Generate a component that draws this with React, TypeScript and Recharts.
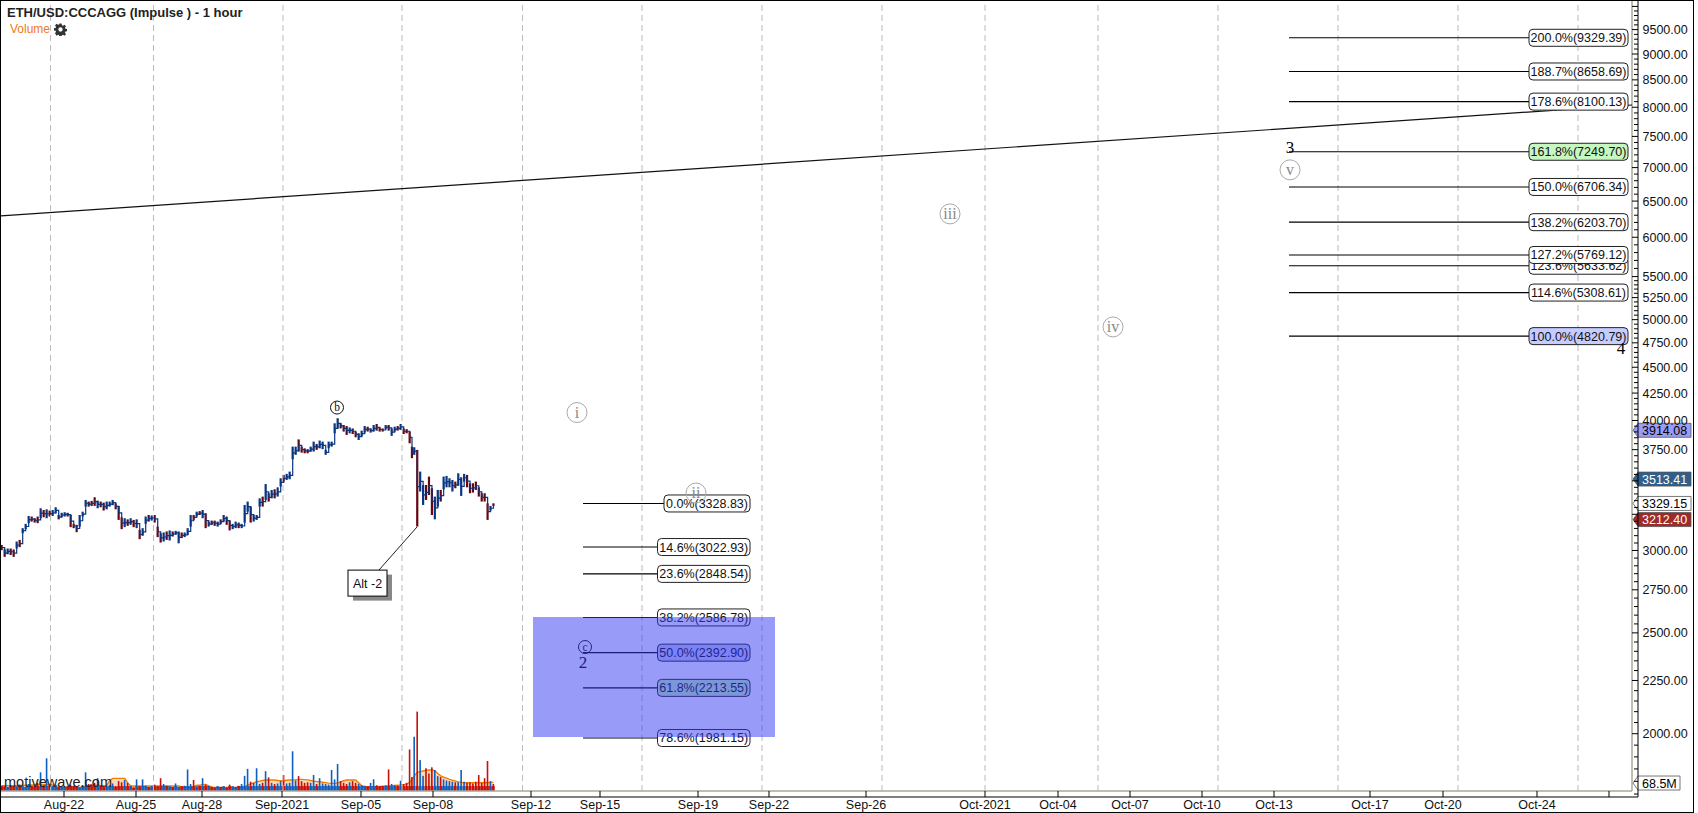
import React from 'react';
import { ComposedChart, Bar, Area, Line, XAxis, YAxis, ReferenceLine, ReferenceArea, ReferenceDot } from 'recharts';

const FONT = '"Liberation Sans", Arial, sans-serif';
const SERIF = '"Liberation Serif", serif';

// hourly series
const priceHigh = [3037,3007,3013,3013,3007,3060,3071,3152,3182,3238,3234,3222,3234,3294,3281,3286,3277,3281,3301,3245,3261,3265,3261,3245,3182,3175,3245,3269,3355,3343,3348,3375,3350,3343,3335,3343,3343,3355,3330,3311,3229,3222,3214,3222,3210,3214,3140,3152,3234,3245,3242,3245,3163,3117,3122,3129,3136,3129,3133,3129,3122,3122,3152,3245,3245,3269,3273,3281,3257,3198,3205,3205,3198,3214,3245,3234,3205,3182,3198,3191,3182,3318,3343,3306,3245,3245,3367,3380,3475,3405,3430,3435,3450,3520,3546,3554,3572,3775,3775,3836,3775,3761,3754,3775,3817,3798,3826,3817,3748,3817,3817,3975,4020,3975,3960,3951,3939,3930,3903,3888,3911,3951,3945,3930,3960,3969,3939,3930,3960,3960,3930,3945,3951,3969,3930,3924,3903,3775,3770,3748,3572,3468,3468,3533,3443,3380,3430,3430,3533,3538,3520,3507,3494,3559,3528,3554,3546,3481,3481,3494,3450,3405,3405,3330,3311,3330];
const priceLow = [3002,2958,2975,2970,2958,3013,3022,3117,3145,3187,3198,3191,3187,3222,3229,3222,3234,3238,3257,3214,3229,3234,3234,3159,3152,3124,3163,3234,3306,3306,3311,3311,3294,3301,3277,3286,3306,3316,3286,3210,3145,3159,3168,3175,3159,3152,3076,3099,3182,3198,3205,3191,3090,3053,3060,3071,3067,3094,3106,3048,3083,3090,3106,3163,3210,3234,3245,3222,3152,3163,3175,3168,3163,3182,3198,3175,3136,3145,3152,3152,3152,3191,3269,3191,3198,3210,3306,3306,3355,3343,3367,3367,3380,3456,3494,3507,3512,3672,3707,3734,3725,3720,3720,3734,3734,3748,3761,3754,3707,3761,3775,3888,3930,3930,3903,3874,3888,3882,3854,3831,3860,3894,3903,3894,3903,3911,3903,3903,3924,3911,3866,3903,3911,3917,3882,3888,3803,3680,3707,3163,3418,3318,3355,3392,3245,3214,3306,3343,3435,3450,3450,3418,3443,3462,3385,3494,3450,3405,3410,3430,3380,3343,3343,3210,3277,3311];
const priceDir = 'DDUDDUD' + 'UUUDDDUDUDU' + 'UDUUDDDDUU' + 'UDDDUDDUUU' + 'DDDUDUDUDU' + 'UDUDDDUDUD' + 'UUDUUUDUDU' + 'DUDDUDUDDU' + 'UDUUUDUUUD' + 'UDUDUUDUUU' + 'UDDDDUUDUU' + 'UUUUUDDDUD' + 'DUUUDUUDDD' + 'UDUUDUDDD' + 'DUD' + 'UUDDDUUDUUUUDUUUDDDDDDDDUD';
const volumeM = [45,40,35,50,45,40,55,40,35,60,45,40,70,160,50,280,45,40,55,35,40,35,40,55,45,35,30,50,160,60,55,70,110,50,45,40,50,65,40,85,75,95,70,45,30,100,40,100,45,35,40,55,40,110,60,45,40,35,65,35,40,45,185,60,95,40,45,110,55,45,35,30,40,35,40,30,55,40,35,45,60,130,190,80,70,195,60,70,170,117,70,60,65,85,137,65,70,340,90,128,85,70,75,70,137,60,110,65,60,55,180,100,231,85,70,60,75,85,70,60,50,45,40,70,100,50,40,45,50,185,60,50,45,88,60,70,356,120,465,680,265,130,195,150,203,180,128,120,100,90,85,80,75,75,180,80,70,75,65,80,137,70,110,257,85,60];
const volumeSma = [46,46,46,46,46,46,48,48,50,50,52,52,55,57,57,57,57,50,45,40,35,31,31,31,31,31,31,35,40,45,50,51,51,48,46,46,90,108,108,108,108,108,70,43,43,43,43,43,43,43,43,43,43,43,43,43,43,43,43,43,38,33,31,31,38,50,50,55,57,45,35,31,31,31,31,31,31,31,31,31,31,38,50,62,70,80,85,90,94,94,94,94,90,88,88,92,94,96,96,100,100,98,96,90,85,82,80,75,72,68,66,66,70,78,88,94,94,94,94,70,45,37,37,37,37,38,40,40,42,44,46,48,50,51,55,60,75,94,130,160,165,172,178,180,180,175,150,130,118,110,100,92,85,78,74,71,71,71,71,71,71,71,71,71,74,76];

const barHour = (i: number) => {
  if (i <= 136) return 0.7 + 3 * i;
  if (i === 137) return 411;
  if (i === 138) return 413.3;
  return 416.3 + (i - 139) * 2.93;
};

const chartData = priceHigh.map((high, i) => ({
  hour: barHour(i),
  high,
  low: priceLow[i],
  mid: (high + priceLow[i]) / 2,
  dir: priceDir[i] ?? 'D',
  volume: volumeM[i] ?? 40,
  sma: volumeSma[i] ?? 70,
}));

// axis
const priceTicksMajor = [2000,2250,2500,2750,3000,3250,3500,3750,4000,4250,4500,4750,5000,5250,5500,6000,6500,7000,7500,8000,8500,9000,9500,10000];
const hiddenPriceLabels = [3250,3500,10000];
const priceTicksMinor: number[] = [];
for (let v = 1750; v < 5500; v += 50) if (!priceTicksMajor.includes(v)) priceTicksMinor.push(v);
for (let v = 5500; v < 10100; v += 100) if (!priceTicksMajor.includes(v)) priceTicksMinor.push(v);
const timeTicks = [63,135,201,281,360,432,530,599,697,768,865,984,1057,1129,1201,1273,1369,1442,1536,1608];
const timeLabels = ['Aug-22','Aug-25','Aug-28','Sep-2021','Sep-05','Sep-08','Sep-12','Sep-15','Sep-19','Sep-22','Sep-26','Oct-2021','Oct-04','Oct-07','Oct-10','Oct-13','Oct-17','Oct-20','Oct-24',''];
const gridHours = [49.5,152.5,282,401,521.5,641,761,881,984,1097,1217,1337,1457,1577];

// Fibonacci levels
const fibUpperPct = ['200.0','188.7','178.6','161.8','150.0','138.2','123.6','127.2','114.6','100.0'];
const fibUpperVal = [9329.39,8658.69,8100.13,7249.70,6706.34,6203.70,5633.62,5769.12,5308.61,4820.79];
const fibLowerPct = ['0.0','14.6','23.6','38.2','50.0','61.8','78.6'];
const fibLowerVal = [3328.83,3022.93,2848.54,2586.78,2392.90,2213.55,1981.15];
const fibFill: Record<string,string> = { '161.8':'#c6f7c0', '61.8':'#c6f7c0', '100.0':'#c6ccff', '50.0':'#c6ccff' };

// wave marks
const waveGrey = ['i','ii','iii','iv','v'];
const waveGreyHour = [576,695,949,1112,1289];
const waveGreyPrice = [4071,3407,6318,4920,6965];
const waveCircled = ['b','c'];
const waveCircledHour = [336,584];
const waveCircledPrice = [4116,2423];
const waveNum = ['2','3','4'];
const waveNumHour = [582,1289,1620];
const waveNumPrice = [2340,7313,4686];

// price tags on the axis
const tagVal = [3914.08,3513.41,3329.15,3212.40];
const tagFill = ['#9a9cf8','#2f5f8a','#ffffff','#9e2a2a'];
const tagText = ['#000','#fff','#000','#fff'];

const BLUE = '#0a3580', DRED = '#660610', VBLUE = '#0e5fc0', VRED = '#c80f0a';

const tagShape = (text: string, fill: string, color: string, w: number) => (props: any) => {
  const vb = props.viewBox;
  const y = vb.y;
  const l = vb.x + vb.width - 5;
  const r = l + w;
  return (
    <g>
      <path d={`M${l},${y} L${l + 5},${y - 7} H${r} V${y + 7} H${l + 5} Z`} fill={fill} stroke="#555" strokeWidth={0.8} />
      <text x={l + 9} y={y + 0.5} fontFamily={FONT} fontSize={12.5} fill={color} dominantBaseline="central">{text}</text>
    </g>
  );
};

const fibLabel = (pct: string, val: number) => (props: any) => {
  const vb = props.viewBox;
  const text = `${pct}%(${val.toFixed(2)})`;
  const w = 6.5 * text.length + 1.5;
  const r = vb.x + vb.width;
  const y = vb.y;
  return (
    <g>
      <rect x={r - w} y={y - 8.5} width={w} height={17} rx={4} fill={fibFill[pct] ?? '#fff'} stroke="#222" strokeWidth={1} />
      <text x={r - w / 2} y={y + 0.5} textAnchor="middle" dominantBaseline="central" fontFamily={FONT} fontSize={12.5} fill="#111">{text}</text>
    </g>
  );
};

const YTick = (props: any) => {
  const { x, y, payload } = props;
  const major = priceTicksMajor.includes(payload.value);
  return (
    <g>
      <line x1={x - (major ? 6 : 4)} x2={x} y1={y} y2={y} stroke="#000" strokeWidth={1} />
      {major && !hiddenPriceLabels.includes(payload.value) && (
        <text x={x + 4.5} y={y + 0.5} fontFamily={FONT} fontSize={12.5} fill="#111" dominantBaseline="central">{payload.value.toFixed(2)}</text>
      )}
    </g>
  );
};

const XTick = (props: any) => {
  const { x, payload } = props;
  const i = timeTicks.indexOf(payload.value);
  return (
    <g>
      <line x1={x} x2={x} y1={797} y2={791} stroke="#000" strokeWidth={1} />
      <text x={x} y={805} textAnchor="middle" dominantBaseline="central" fontFamily={FONT} fontSize={12.5} fill="#111">{timeLabels[i]}</text>
    </g>
  );
};

const priceShape = (p: any) => (
  <rect x={p.x} y={Math.min(p.y, p.y + p.height)} width={p.width} height={Math.abs(p.height)} fill={p.payload.dir === 'U' ? BLUE : DRED} />
);

// thin spike above a solid foot, as the dense hourly volume bars look in the picture
const volumeShape = (p: any) => {
  const top = Math.min(p.y, p.y + p.height);
  const h = Math.abs(p.height);
  const foot = Math.min(h, 5);
  const color = p.payload.dir === 'U' ? VBLUE : VRED;
  return (
    <g>
      <rect x={p.x - 0.3} y={top + h - foot} width={p.width + 0.6} height={foot} fill={color} />
      <rect x={p.x + p.width / 2 - 0.8} y={top} width={1.6} height={h} fill={color} />
    </g>
  );
};

const Gear = () => (
  <svg width="13" height="13" viewBox="0 0 24 24" style={{ position: 'absolute', left: 54, top: 23 }}>
    <path fill="#333" fillRule="evenodd" d="M10 1h4l.6 3.2 2 .8L19.3 3.2l2.8 2.8-1.8 2.7.8 2 3.2.6v4l-3.2.6-.8 2 1.8 2.7-2.8 2.8-2.7-1.8-2 .8-.6 3.2h-4l-.6-3.2-2-.8-2.7 1.8L1.9 19l1.8-2.7-.8-2L-.3 13.7v-4l3.2-.6.8-2L1.9 4.4 4.7 1.6l2.7 1.8 2-.8z M12 8a4 4 0 1 0 0 8 4 4 0 0 0 0-8z" />
  </svg>
);

export default function App() {
  const W = 1693, H = 813;
  const fibBand = (pct: string[], val: number[], start: number, end: number) =>
    pct.map((p, i) => (
      <ReferenceLine key={p} xAxisId="t" yAxisId="price" stroke="#000" strokeWidth={1.1}
        segment={[{ x: start, y: val[i] }, { x: end, y: val[i] }]}
        label={fibLabel(p, val[i])} />
    ));
  return (
    <div style={{ position: 'absolute', left: 0, top: 0, width: W + 5, height: H, background: '#fff', overflow: 'hidden' }}>
      <ComposedChart width={W} height={H} data={chartData} margin={{ top: 0, right: 0, bottom: 0, left: 1 }} style={{ position: 'absolute', left: 0, top: 0 }}>
        <XAxis xAxisId="t" dataKey="hour" type="number" domain={[0, 1637]} allowDataOverflow ticks={timeTicks} interval={0} height={16}
          axisLine={{ stroke: '#000', strokeWidth: 1 }} tickLine={false} tick={<XTick />} />
        <XAxis xAxisId="v" dataKey="hour" type="number" domain={[0, 1637]} allowDataOverflow hide />
        <YAxis yAxisId="price" orientation="right" scale="log" type="number" domain={[1738.6, 10143]} allowDataOverflow width={55}
          ticks={[...priceTicksMajor, ...priceTicksMinor].sort((a, b) => a - b)} interval={0} tickLine={false} tickSize={0} tickMargin={0}
          axisLine={{ stroke: '#000', strokeWidth: 1 }} tick={<YTick />} />
        <YAxis yAxisId="vol" hide type="number" domain={[-51, 6771]} allowDataOverflow />

        {gridHours.map((h) => (
          <ReferenceLine key={h} xAxisId="t" yAxisId="price" stroke="#bbb" strokeWidth={1} strokeDasharray="6 4"
            segment={[{ x: h, y: 1762 }, { x: h, y: 10143 }]} />
        ))}
        <ReferenceLine xAxisId="t" yAxisId="price" stroke="#a9a89a" strokeWidth={1.5} segment={[{ x: 1631, y: 1762 }, { x: 1631, y: 10143 }]} />
        <ReferenceLine xAxisId="t" yAxisId="price" stroke="#a9a89a" strokeWidth={1.5} segment={[{ x: 0, y: 1762 }, { x: 1631, y: 1762 }]} />

        <Bar xAxisId="v" yAxisId="vol" dataKey="volume" barSize={3} isAnimationActive={false} shape={volumeShape} />
        <Area xAxisId="v" yAxisId="vol" dataKey="sma" type="linear" stroke="#f57c00" strokeWidth={1.4} fill="#f59a4a" fillOpacity={0.38} isAnimationActive={false} dot={false} activeDot={false} />
        <Line xAxisId="t" yAxisId="price" dataKey="mid" type="stepAfter" stroke={BLUE} strokeWidth={1.2} dot={false} activeDot={false} isAnimationActive={false} />
        <Bar xAxisId="t" yAxisId="price" dataKey={(d: any) => [d.low, d.high]} barSize={2.2} isAnimationActive={false} shape={priceShape} />

        <ReferenceLine xAxisId="t" yAxisId="price" stroke="#111" strokeWidth={1.2} segment={[{ x: 0, y: 6290 }, { x: 1631, y: 8040 }]} />
        <ReferenceLine xAxisId="t" yAxisId="price" stroke="#222" strokeWidth={1} segment={[{ x: 416, y: 3160 }, { x: 378, y: 2873 }]} />
        <ReferenceDot xAxisId="t" yAxisId="price" x={366.5} y={2791} r={1}
          shape={(p: any) => (
            <g>
              <rect x={p.cx - 14.5} y={p.cy - 8.5} width={39} height={26} fill="#888" />
              <rect x={p.cx - 19.5} y={p.cy - 13} width={39} height={26} fill="#fff" stroke="#000" strokeWidth={1} />
              <text x={p.cx} y={p.cy + 0.5} textAnchor="middle" dominantBaseline="central" fontFamily={FONT} fontSize={12.5} fill="#111">Alt -2</text>
            </g>
          )} />

        {waveGrey.map((t, i) => (
          <ReferenceDot key={t} xAxisId="t" yAxisId="price" x={waveGreyHour[i]} y={waveGreyPrice[i]} r={10}
            shape={(p: any) => (
              <g>
                <circle cx={p.cx} cy={p.cy} r={10} fill="none" stroke="#aaa" strokeWidth={1} />
                <text x={p.cx} y={p.cy} textAnchor="middle" dominantBaseline="central" fontFamily={SERIF} fontSize={16} fill="#888">{t}</text>
              </g>
            )} />
        ))}
        {waveCircled.map((t, i) => (
          <ReferenceDot key={t} xAxisId="t" yAxisId="price" x={waveCircledHour[i]} y={waveCircledPrice[i]} r={6.5}
            shape={(p: any) => (
              <g>
                <circle cx={p.cx} cy={p.cy} r={6.5} fill="none" stroke="#111" strokeWidth={1} />
                <text x={p.cx} y={p.cy - 0.5} textAnchor="middle" dominantBaseline="central" fontFamily={SERIF} fontSize={11.5} fill="#111">{t}</text>
              </g>
            )} />
        ))}

        {fibBand(fibUpperPct, fibUpperVal, 1288, 1627)}
        {fibBand(fibLowerPct, fibLowerVal, 582, 749)}

        {waveNum.map((t, i) => (
          <ReferenceDot key={t} xAxisId="t" yAxisId="price" x={waveNumHour[i]} y={waveNumPrice[i]} r={7}
            shape={(p: any) => (
              <text x={p.cx} y={p.cy} textAnchor="middle" dominantBaseline="central" fontFamily={SERIF} fontSize={17} fill="#000">{t}</text>
            )} />
        ))}

        <ReferenceArea xAxisId="t" yAxisId="price" x1={532} x2={774} y1={1985.5} y2={2590} fill="#3238f0" fillOpacity={0.5} stroke="none" zIndex={3000} />

        {tagVal.map((v, i) => (
          <ReferenceLine key={v} xAxisId="t" yAxisId="price" y={v} stroke="none" label={tagShape(v.toFixed(2), tagFill[i], tagText[i], 58)} />
        ))}
        <ReferenceLine xAxisId="t" yAxisId="vol" y={68.5} stroke="none" label={tagShape('68.5M', '#fff', '#000', 47)} />
      </ComposedChart>

      <div style={{ position: 'absolute', left: 7, top: 5, fontFamily: FONT, fontWeight: 700, fontSize: 13, lineHeight: '15px', color: '#222', whiteSpace: 'nowrap' }}>ETH/USD:CCCAGG (Impulse ) - 1 hour</div>
      <div style={{ position: 'absolute', left: 10, top: 22, fontFamily: FONT, fontSize: 12, lineHeight: '15px', color: '#f07a1a' }}>Volume</div>
      <Gear />
      <div style={{ position: 'absolute', left: 4, top: 774, fontFamily: FONT, fontSize: 14.5, lineHeight: '17px', color: '#222' }}>motivewave.com</div>
      <div style={{ position: 'absolute', left: 0, top: 0, width: 1694, height: 813, boxSizing: 'border-box', border: '1.2px solid #000', pointerEvents: 'none' }} />
    </div>
  );
}
